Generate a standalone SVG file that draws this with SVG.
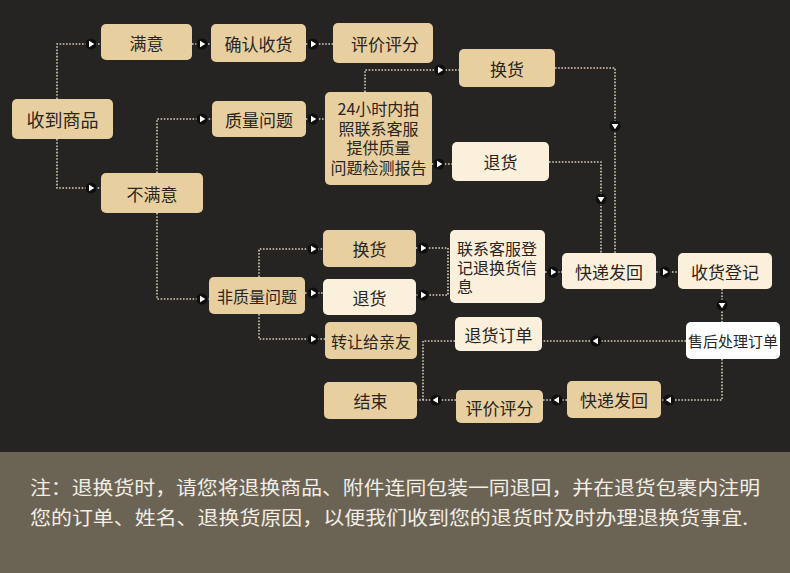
<svg xmlns="http://www.w3.org/2000/svg" xmlns:xlink="http://www.w3.org/1999/xlink" width="790" height="573" viewBox="0 0 790 573">
<style>
.tan{fill:#e8cfa0}
.lt{fill:#fbf0dc}
.wh{fill:#ffffff}
.lbl{font-family:"Noto Sans CJK SC","Noto Sans",sans-serif;font-size:17px;fill:#2a251f;text-anchor:middle;dominant-baseline:central}
.lbl.s16{font-size:16px}
.lbl.s15{font-size:15px}
.lbl.s18{font-size:18px}
.lbl.left{text-anchor:start}
.ln{fill:none;stroke:#d9ccb4;stroke-width:1.6;stroke-dasharray:1.6,1.6}
.note{font-family:"Noto Sans CJK SC","Noto Sans",sans-serif;font-size:19px;fill:#f2eee6;dominant-baseline:central}
</style>
<defs>
<g id="arr"><circle r="5.5" fill="#0e0e0e"/><path d="M-2,-3.3 L3.3,0 L-2,3.3 Z" fill="#ffffff"/></g>
</defs>
<rect x="0" y="0" width="790" height="452" fill="#252423"/>
<rect x="0" y="452" width="790" height="121" fill="#6b6455"/>

<g id="connectors">
<path class="ln" d="M57,99 V44 H101"/>
<path class="ln" d="M57,139 V188 H101"/>
<path class="ln" d="M192,44 H211"/>
<path class="ln" d="M306,44 H333"/>
<path class="ln" d="M157,173 V119 H212"/>
<path class="ln" d="M157,213 V299 H209"/>
<path class="ln" d="M306,119 H325"/>
<path class="ln" d="M365,92 V70 H459"/>
<path class="ln" d="M432,164 H452"/>
<path class="ln" d="M555,68 H615 V253"/>
<path class="ln" d="M549,162 H601 V253"/>
<path class="ln" d="M259,277 V249 H323"/>
<path class="ln" d="M305,293 H323"/>
<path class="ln" d="M259,314 V339 H325"/>
<path class="ln" d="M416,248 H448 V295 H416"/>
<path class="ln" d="M545,272 H562"/>
<path class="ln" d="M656,272 H678"/>
<path class="ln" d="M722,289 V322"/>
<path class="ln" d="M686,341 H542"/>
<path class="ln" d="M455,341 H423 V400"/>
<path class="ln" d="M722,359 V400 H661"/>
<path class="ln" d="M567,400 H543"/>
<path class="ln" d="M456,400 H417"/>
<use xlink:href="#arr" transform="translate(91,44)"/>
<use xlink:href="#arr" transform="translate(91,188)"/>
<use xlink:href="#arr" transform="translate(202,44)"/>
<use xlink:href="#arr" transform="translate(313,44)"/>
<use xlink:href="#arr" transform="translate(202,119)"/>
<use xlink:href="#arr" transform="translate(202,299)"/>
<use xlink:href="#arr" transform="translate(313,119)"/>
<use xlink:href="#arr" transform="translate(440,70)"/>
<use xlink:href="#arr" transform="translate(439,164)"/>
<use xlink:href="#arr" transform="translate(615,126) rotate(90)"/>
<use xlink:href="#arr" transform="translate(601,199) rotate(90)"/>
<use xlink:href="#arr" transform="translate(313,249)"/>
<use xlink:href="#arr" transform="translate(313,293)"/>
<use xlink:href="#arr" transform="translate(313,339)"/>
<use xlink:href="#arr" transform="translate(423,248)"/>
<use xlink:href="#arr" transform="translate(423,295)"/>
<use xlink:href="#arr" transform="translate(553,272)"/>
<use xlink:href="#arr" transform="translate(665,272)"/>
<use xlink:href="#arr" transform="translate(722,305) rotate(90)"/>
<use xlink:href="#arr" transform="translate(596,341) rotate(180)"/>
<use xlink:href="#arr" transform="translate(669,400) rotate(180)"/>
<use xlink:href="#arr" transform="translate(557,400) rotate(180)"/>
<use xlink:href="#arr" transform="translate(436,400) rotate(180)"/>
</g>

<g id="n-receive"><rect class="tan" x="12" y="99" width="101" height="40" rx="5"/><text class="lbl s18" x="62.5" y="119">收到商品</text></g>
<g id="n-satisfied"><rect class="tan" x="101" y="24" width="91" height="36" rx="5"/><text class="lbl" x="146.5" y="42">满意</text></g>
<g id="n-confirm"><rect class="tan" x="211" y="24" width="95" height="38" rx="5"/><text class="lbl" x="258.5" y="43">确认收货</text></g>
<g id="n-rate1"><rect class="tan" x="333" y="23" width="100" height="40" rx="5"/><text class="lbl" x="385" y="43">评价评分</text></g>
<g id="n-unsatisfied"><rect class="tan" x="101" y="173" width="102" height="40" rx="5"/><text class="lbl" x="152" y="193">不满意</text></g>
<g id="n-quality"><rect class="tan" x="212" y="101" width="94" height="36" rx="5"/><text class="lbl" x="259" y="119">质量问题</text></g>
<g id="n-report"><rect class="tan" x="325" y="92" width="107" height="93" rx="5"/>
<text class="lbl s16" x="378.5" y="108"><tspan x="378.5">24小时内拍</tspan><tspan x="378.5" dy="19.5">照联系客服</tspan><tspan x="378.5" dy="19.5">提供质量</tspan><tspan x="378.5" dy="19.5">问题检测报告</tspan></text></g>
<g id="n-exchange1"><rect class="tan" x="459" y="49" width="96" height="38" rx="5"/><text class="lbl" x="507" y="68">换货</text></g>
<g id="n-return1"><rect class="lt" x="452" y="142" width="97" height="39" rx="5"/><text class="lbl" x="500.5" y="161.5">退货</text></g>
<g id="n-nonquality"><rect class="tan" x="209" y="277" width="96" height="37" rx="5"/><text class="lbl s16" x="257" y="295.5">非质量问题</text></g>
<g id="n-exchange2"><rect class="tan" x="323" y="230" width="93" height="37" rx="5"/><text class="lbl" x="369.5" y="248.5">换货</text></g>
<g id="n-return2"><rect class="lt" x="323" y="279" width="93" height="36" rx="5"/><text class="lbl" x="369.5" y="297">退货</text></g>
<g id="n-transfer"><rect class="tan" x="325" y="322" width="92" height="37" rx="5"/><text class="lbl s16" x="371" y="340.5">转让给亲友</text></g>
<g id="n-end"><rect class="tan" x="324" y="382" width="93" height="37" rx="5"/><text class="lbl" x="370.5" y="400.5">结束</text></g>
<g id="n-contact"><rect class="lt" x="450" y="230" width="95" height="73" rx="5"/>
<text class="lbl s16 left" x="457" y="248"><tspan x="457">联系客服登</tspan><tspan x="457" dy="19">记退换货信</tspan><tspan x="457" dy="19">息</tspan></text></g>
<g id="n-ship1"><rect class="lt" x="562" y="253" width="94" height="36" rx="5"/><text class="lbl" x="609" y="271">快递发回</text></g>
<g id="n-register"><rect class="lt" x="678" y="253" width="94" height="36" rx="5"/><text class="lbl" x="725" y="271">收货登记</text></g>
<g id="n-aftersale"><rect class="wh" x="686" y="322" width="94" height="37" rx="5"/><text class="lbl s15" x="733" y="340.5">售后处理订单</text></g>
<g id="n-returnorder"><rect class="lt" x="455" y="317" width="87" height="34" rx="5"/><text class="lbl" x="498.5" y="334">退货订单</text></g>
<g id="n-ship2"><rect class="tan" x="567" y="381" width="94" height="37" rx="5"/><text class="lbl" x="614" y="399.5">快递发回</text></g>
<g id="n-rate2"><rect class="tan" x="456" y="390" width="87" height="33" rx="5"/><text class="lbl" x="499.5" y="407">评价评分</text></g>

<text class="note" x="30" y="486" textLength="730" lengthAdjust="spacingAndGlyphs">注：退换货时，请您将退换商品、附件连同包装一同退回，并在退货包裹内注明</text>
<text class="note" x="30" y="516" textLength="718" lengthAdjust="spacingAndGlyphs">您的订单、姓名、退换货原因，以便我们收到您的退货时及时办理退换货事宜.</text>
</svg>
